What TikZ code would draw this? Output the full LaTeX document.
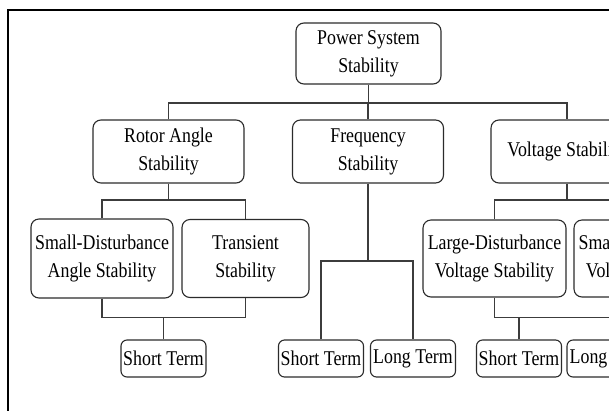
\documentclass[tikz,border=0pt]{standalone}
\usepackage{fontspec}
\setmainfont{Liberation Serif}[FakeStretch=0.85]
\definecolor{boxline}{HTML}{2B2B2B}
\definecolor{wirecol}{HTML}{3C3C3C}
\tikzset{
    box/.style={draw=boxline, line width=1.1pt, rounded corners=8pt, align=center,
        inner sep=2pt, font=\fontsize{21}{28}\selectfont},
    termbox/.style={box, rounded corners=6pt, minimum width=85, minimum height=37},
    wire/.style={draw=wirecol, line width=1.3pt}
}

\begin{document}
\begin{tikzpicture}[x=1pt,y=-1pt]
    \pgfmathsetmacro{\ya}{53.5}
    \pgfmathsetmacro{\yb}{151.5}
    \pgfmathsetmacro{\yc}{258.5}
    \pgfmathsetmacro{\yd}{358.5}

    \clip (0,0) rectangle (609,410);
    \draw [line width=2pt] (8,412) -- (8,10) -- (612,10);

    \coordinate (bA) at (0,103);
    \coordinate (bB) at (0,200);
    \coordinate (bC) at (0,317.5);
    \coordinate (bD) at (0,261);

    \node[box, minimum width=145, minimum height=61] (pss) at (368.5,\ya) {Power System\\Stability};
    \node[box, minimum width=151, minimum height=63] (rot) at (168.5,\yb) {Rotor Angle\\Stability};
    \node[box, minimum width=151, minimum height=63] (frq) at (368,\yb) {Frequency\\Stability};
    \node[box, minimum width=152, minimum height=63] (vol) at (567,\yb) {Voltage Stability};

    \node[box, minimum width=142, minimum height=79] (sda) at (102,\yc) {Small-Disturbance\\Angle Stability};
    \node[box, minimum width=127, minimum height=78] (tra) at (245.5,\yc) {Transient\\Stability};
    \node[box, minimum width=143, minimum height=77] (ldv) at (494.5,\yc) {Large-Disturbance\\Voltage Stability};
    \node[box, minimum width=143, minimum height=77] (sdv) at (645.5,\yc) {Small-Disturbance\\Voltage Stability};

    \node[termbox] (st1) at (163.5,\yd) {Short Term};
    \node[termbox] (st2) at (321,\yd) {Short Term};
    \node[termbox] (lt2) at (413,\yd) {Long Term};
    \node[termbox] (st3) at (519,\yd) {Short Term};
    \node[termbox] (lt3) at (609.5,\yd) {Long Term};

    \draw[wire] (pss.south) -- (pss.south |- bA);
    \draw[wire] (rot.north) |- (vol.north |- bA) -- (vol.north);
    \draw[wire] (frq.north) -- (frq.north |- bA);

    \draw[wire] (rot.south) -- (rot.south |- bB);
    \draw[wire] (sda.north) |- (tra.north |- bB) -- (tra.north);
    \draw[wire] (sda.south) |- (tra.south |- bC) -- (tra.south);
    \draw[wire] (st1.north) -- (st1.north |- bC);

    \draw[wire] (frq.south) -- (frq.south |- bD);
    \draw[wire] (st2.north) |- (lt2.north |- bD) -- (lt2.north);

    \draw[wire] (vol.south) -- (vol.south |- bB);
    \draw[wire] (ldv.north) |- (sdv.north |- bB) -- (sdv.north);
    \draw[wire] (ldv.south) |- (sdv.south |- bC) -- (sdv.south);
    \draw[wire] (st3.north) -- (st3.north |- bC);
    \draw[wire] (lt3.north) -- (lt3.north |- bC);
\end{tikzpicture}
\end{document}
